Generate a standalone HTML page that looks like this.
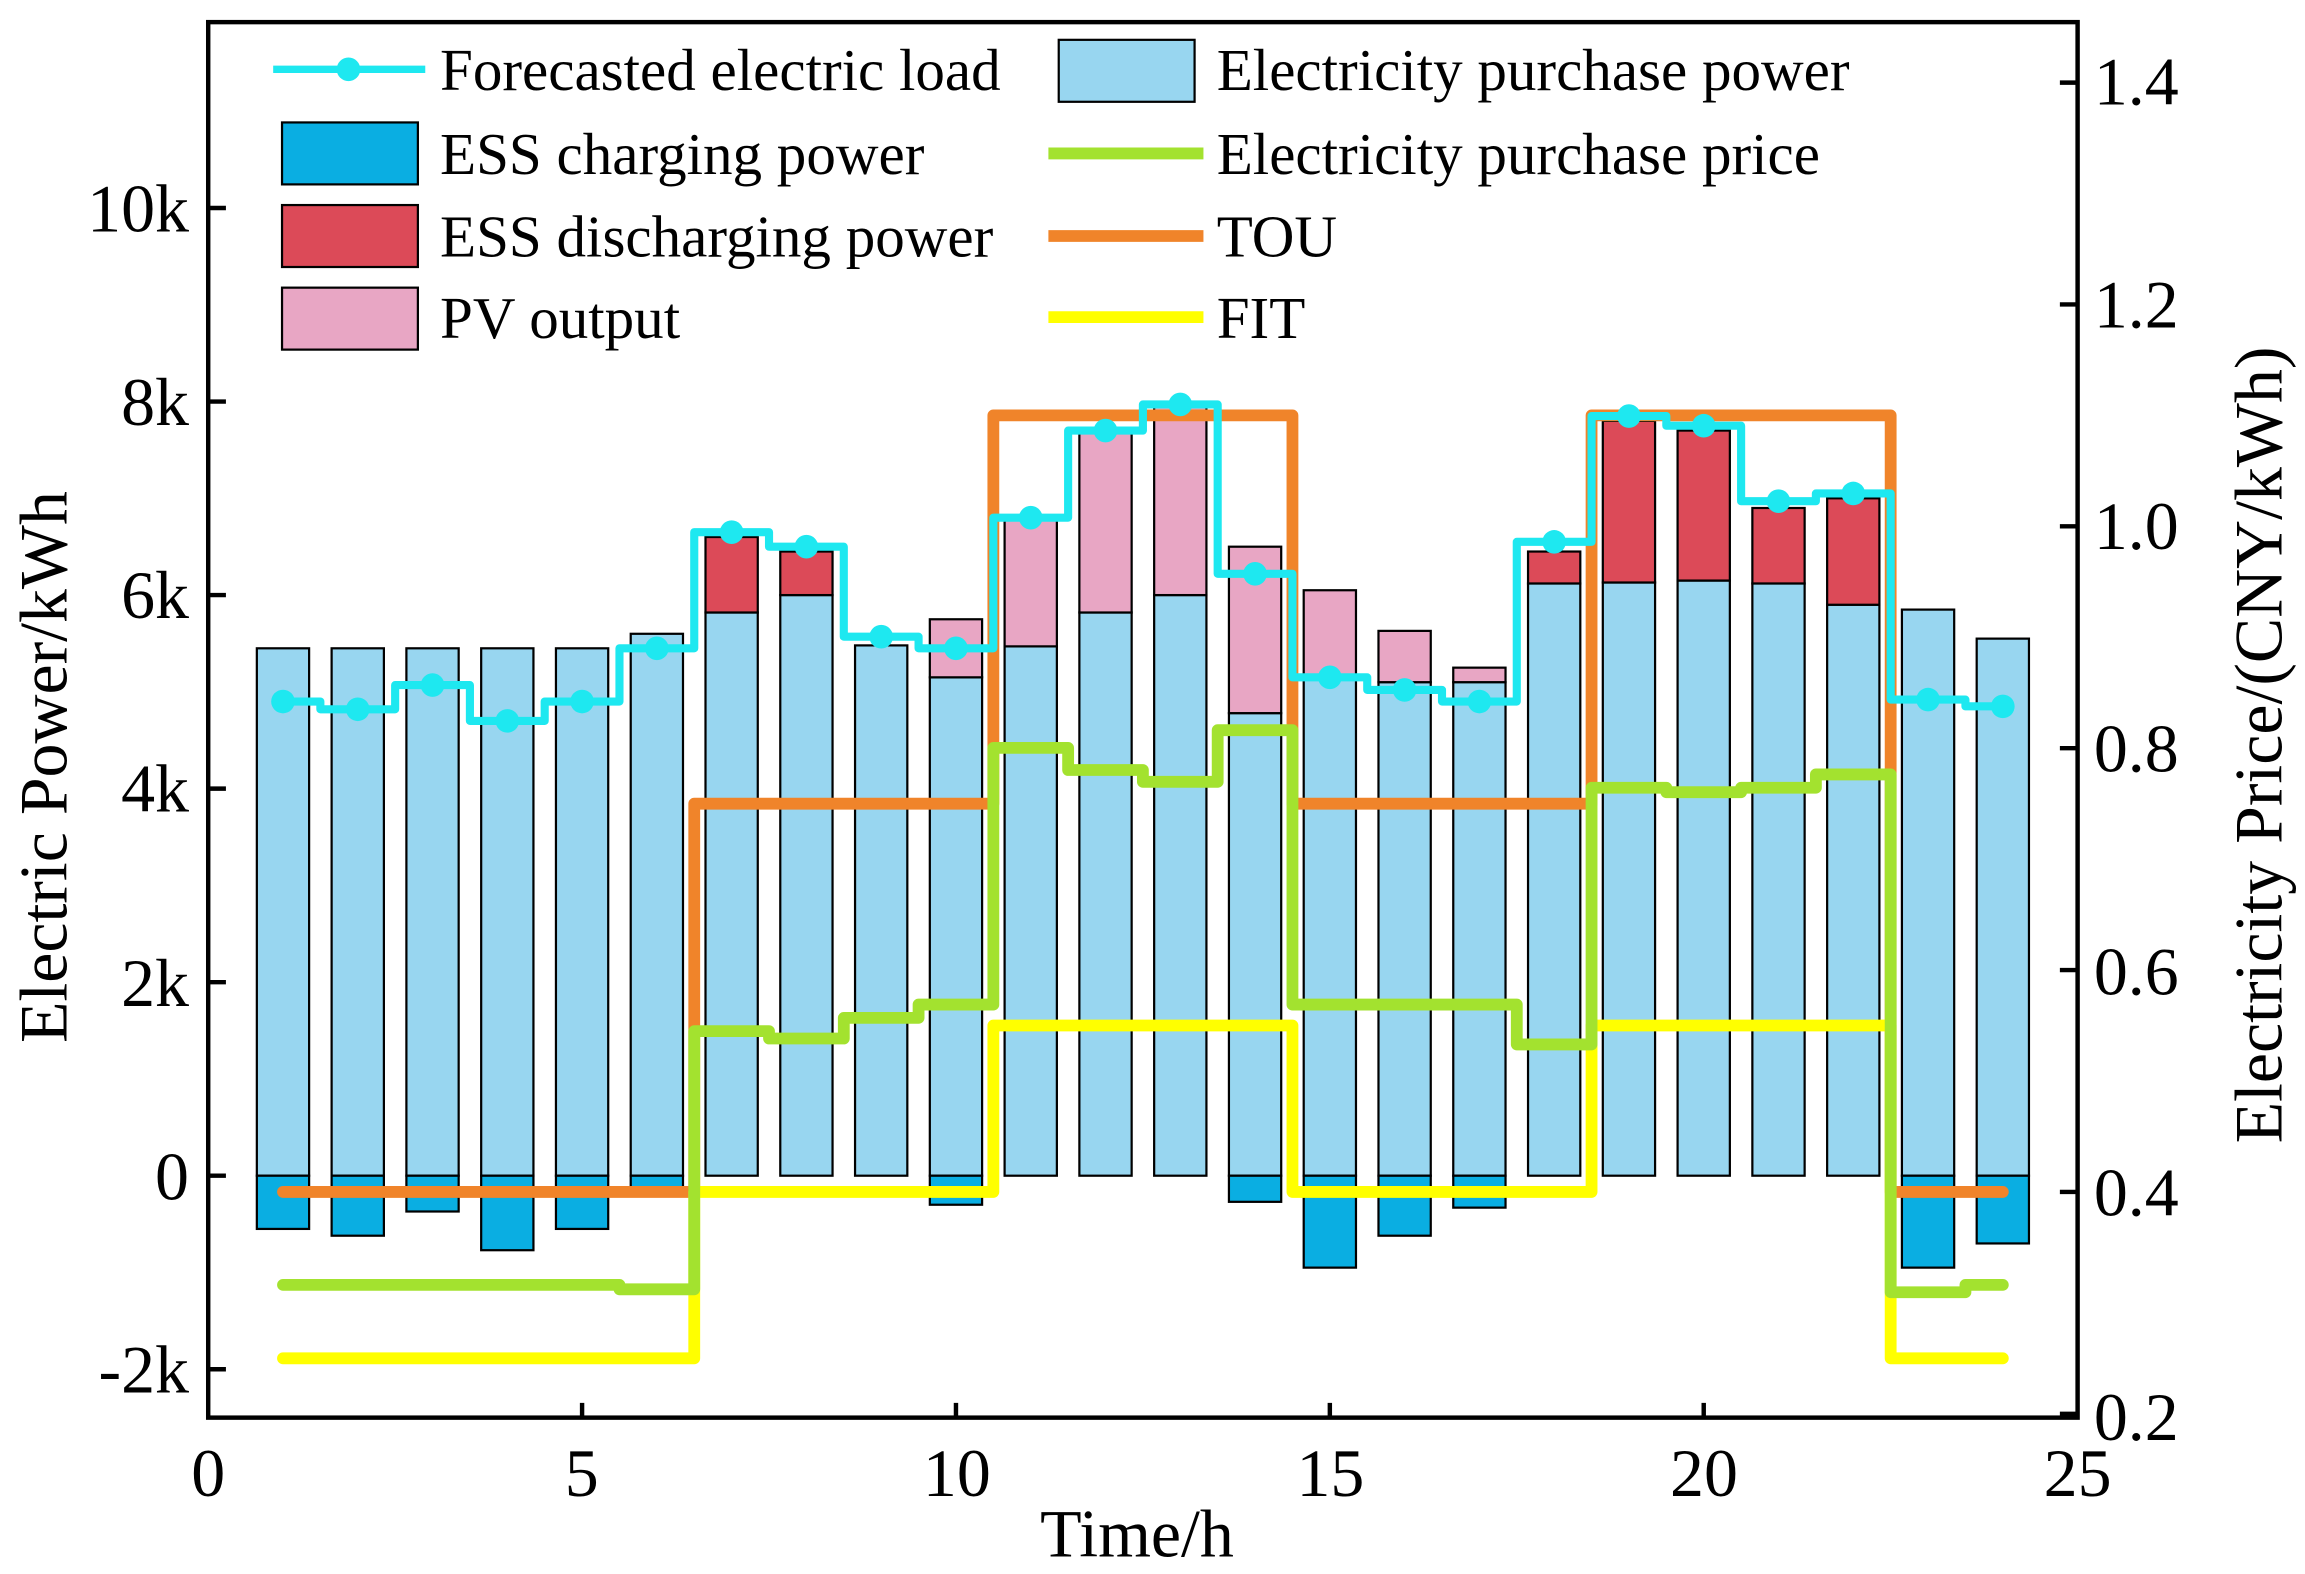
<!DOCTYPE html>
<html><head><meta charset="utf-8"><style>html,body{margin:0;padding:0;background:#fff}svg{display:block}</style></head>
<body>
<svg id="s" width="2305" height="1574" viewBox="0 0 1561 1067" preserveAspectRatio="none" xmlns="http://www.w3.org/2000/svg" font-family="Liberation Serif, serif">
<g id="bars"></g>
<g id="lines" fill="none" stroke-linejoin="round"></g>
<rect x="141" y="15" width="1266" height="946" fill="none" stroke="#000" stroke-width="3"/>
<g id="ticks" stroke="#000" stroke-width="3"></g>
<g font-size="46" fill="#000">
<text x="128" y="813" text-anchor="end">0</text>
<text x="128" y="682" text-anchor="end">2k</text>
<text x="128" y="550" text-anchor="end">4k</text>
<text x="128" y="419" text-anchor="end">6k</text>
<text x="128" y="288" text-anchor="end">8k</text>
<text x="128" y="157" text-anchor="end">10k</text>
<text x="128" y="944" text-anchor="end">-2k</text>
<text x="1418" y="824">0.4</text>
<text x="1418" y="674">0.6</text>
<text x="1418" y="523">0.8</text>
<text x="1418" y="372">1.0</text>
<text x="1418" y="222">1.2</text>
<text x="1418" y="71">1.4</text>
<text x="1418" y="976">0.2</text>
<text x="141" y="1014" text-anchor="middle">0</text>
<text x="394" y="1014" text-anchor="middle">5</text>
<text x="648" y="1014" text-anchor="middle">10</text>
<text x="901" y="1014" text-anchor="middle">15</text>
<text x="1154" y="1014" text-anchor="middle">20</text>
<text x="1407" y="1014" text-anchor="middle">25</text>
<text x="770" y="1055" text-anchor="middle">Time/h</text>
<text transform="translate(45,520) rotate(-90)" text-anchor="middle">Electric Power/kWh</text>
<text transform="translate(1545,505) rotate(-90)" text-anchor="middle">Electricity Price/(CNY/kWh)</text>
</g>
<g font-size="40" fill="#000">
<line x1="185" y1="47" x2="288" y2="47" stroke="#1ee8f0" stroke-width="5"/><circle cx="236" cy="47" r="8" fill="#1ee8f0"/>
<text x="298" y="61">Forecasted electric load</text>
<rect x="191" y="83" width="92" height="42" fill="#0aaee2" stroke="#000" stroke-width="1.5"/><text x="298" y="118">ESS charging power</text>
<rect x="191" y="139" width="92" height="42" fill="#dc4a58" stroke="#000" stroke-width="1.5"/><text x="298" y="174">ESS discharging power</text>
<rect x="191" y="195" width="92" height="42" fill="#e8a6c4" stroke="#000" stroke-width="1.5"/><text x="298" y="229">PV output</text>
<rect x="717" y="27" width="92" height="42" fill="#98d6f0" stroke="#000" stroke-width="1.5"/><text x="824" y="61">Electricity purchase power</text>
<line x1="710" y1="104" x2="815" y2="104" stroke="#a3e22f" stroke-width="8"/><text x="824" y="118">Electricity purchase price</text>
<line x1="710" y1="160" x2="815" y2="160" stroke="#f0842a" stroke-width="8"/><text x="824" y="174">TOU</text>
<line x1="710" y1="215" x2="815" y2="215" stroke="#ffff00" stroke-width="8"/><text x="824" y="229">FIT</text>
</g>
</svg>
<script>
const NS="http://www.w3.org/2000/svg";
const X=h=>141+50.64*h, Y=v=>797-65.6*v, P=p=>808-(p-0.4)*752;
function el(par,t,a){const e=document.createElementNS(NS,t);for(const k in a)e.setAttribute(k,a[k]);document.getElementById(par).appendChild(e);return e;}
const buy=[5.45,5.45,5.45,5.45,5.45,5.6,5.82,6.0,5.48,5.15,5.47,5.82,6.0,4.78,5.15,5.1,5.1,6.12,6.13,6.15,6.12,5.9,5.85,5.55];
const dis={7:6.6,8:6.45,18:6.45,19:7.8,20:7.7,21:6.9,22:7.0};
const pv={10:5.75,11:6.8,12:7.7,13:7.95,14:6.5,15:6.05,16:5.63,17:5.25};
const ch={1:-.55,2:-.62,3:-.37,4:-.77,5:-.55,6:-.15,10:-.3,14:-.27,15:-.95,16:-.62,17:-.33,23:-.95,24:-.7};
const w=35.4;
function bar(h,a,b,c){el("bars","rect",{x:X(h)-w/2,y:Y(Math.max(a,b)),width:w,height:Math.abs(Y(a)-Y(b)),fill:c,stroke:"#000","stroke-width":1.5});}
for(let h=1;h<=24;h++){
 bar(h,0,buy[h-1],"#98d6f0");
 if(dis[h])bar(h,buy[h-1],dis[h],"#dc4a58");
 if(pv[h])bar(h,buy[h-1],pv[h],"#e8a6c4");
 if(ch[h])bar(h,0,ch[h],"#0aaee2");
}
function step(vals,f,col,sw){let d="";for(let h=1;h<=24;h++){const y=f(vals[h-1]);const x0=h==1?X(1):X(h-0.5),x1=h==24?X(24):X(h+0.5);d+=(h==1?"M":"L")+x0+","+y+"L"+x1+","+y;}el("lines","path",{d:d,stroke:col,"stroke-width":sw,"stroke-linecap":"round"});}
const tou=[],fit=[];for(let h=1;h<=24;h++){let t,f;if(h<=6||h>=23){t=.4;f=.25}else if(h<=10||(h>=15&&h<=18)){t=.75;f=.4}else{t=1.1;f=.55}tou.push(t);fit.push(f);}
step(tou,P,"#f0842a",8);
step(fit,P,"#ffff00",8);
const gy=[871,871,871,871,871,874,699,704,690,681,507,522,530,495,681,681,681,708,534,537,534,525,876,871];
step(gy,v=>v,"#a3e22f",8);
const load=[4.9,4.82,5.07,4.7,4.9,5.45,6.65,6.5,5.57,5.45,6.8,7.7,7.97,6.22,5.15,5.02,4.9,6.55,7.85,7.75,6.97,7.05,4.92,4.85];
step(load,Y,"#1ee8f0",5.5);
for(let h=1;h<=24;h++)el("lines","circle",{cx:X(h),cy:Y(load[h-1]),r:8,fill:"#1ee8f0",stroke:"none"});
for(let v=-2;v<=10;v+=2)el("ticks","line",{x1:141,x2:153,y1:Y(v),y2:Y(v)});
for(let p=.2;p<1.45;p+=.2)el("ticks","line",{x1:1395,x2:1407,y1:P(p),y2:P(p)});
for(let h=5;h<25;h+=5)el("ticks","line",{x1:X(h),x2:X(h),y1:961,y2:951});
</script>
</body></html>
